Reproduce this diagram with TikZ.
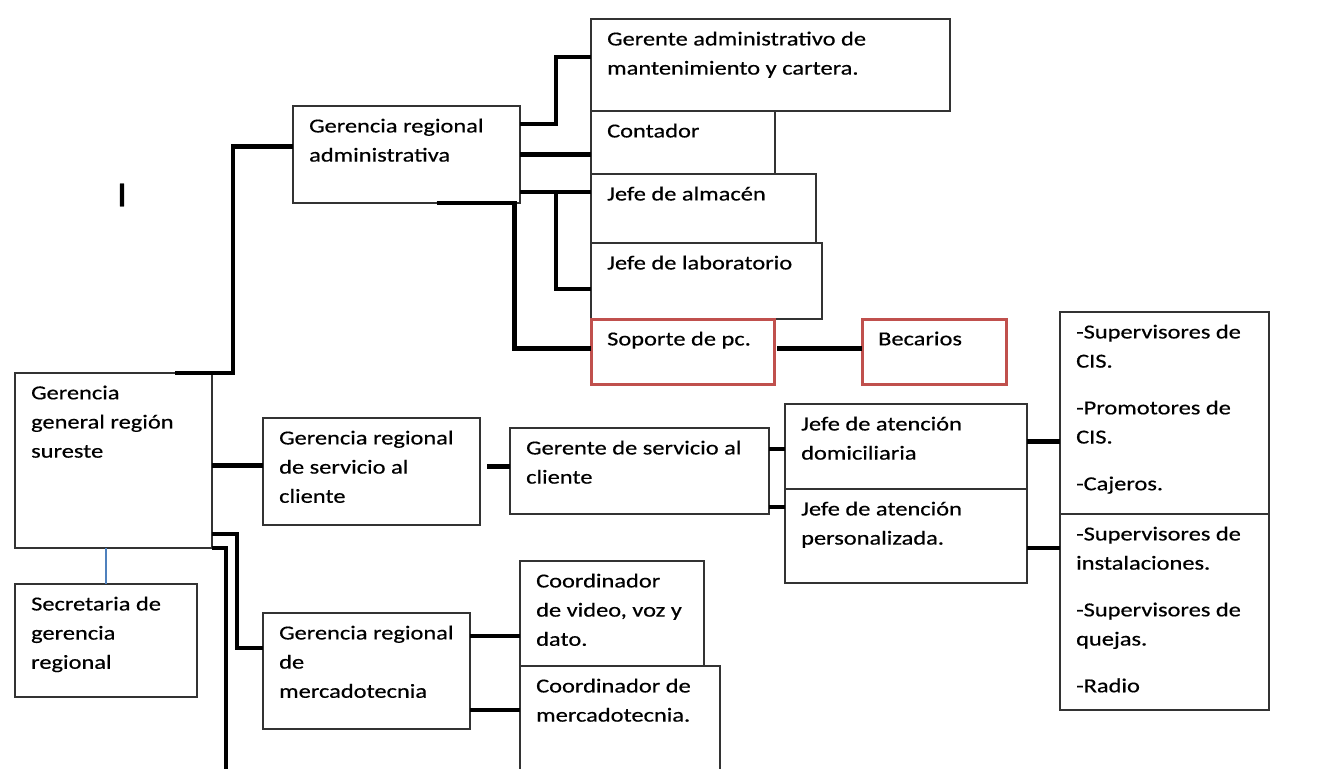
\documentclass[tikz,border=0pt]{standalone}
\usepackage{fontspec}
\setmainfont{Carlito}[FakeStretch=1.23,FakeBold=0.5]
\usetikzlibrary{positioning,calc}
\definecolor{rojo}{RGB}{192,80,77}
\definecolor{azul}{RGB}{79,129,189}

\tikzset{
    caja/.style 2 args={draw=black!80, line width=0.8pt, rectangle, inner sep=0pt, outer sep=0pt,
        anchor=north west, minimum width=#1*0.02cm, minimum height=#2*0.02cm},
    roja/.style={draw=rojo, line width=1.7pt},
    texto/.style={anchor=north west, align=left, inner sep=0pt, xshift=9pt, yshift=-7pt,
        font=\fontsize{11.3}{16.6}\selectfont},
    rotulo/.style={label={[texto]north west:{#1}}},
    linea/.style={line width=2.4pt}
}

\begin{document}
\begin{tikzpicture}[x=0.02cm,y=-0.02cm]
    \useasboundingbox (0,0) rectangle (1334,768);
    \node[font=\fontsize{20}{20}\selectfont] (cursor) at (122,195) {I};

    % rama administrativa
    \node[caja={227}{97}, rotulo={Gerencia regional\\administrativa}] (gra) at (293,106) {};
    \node[caja={359}{92}, rotulo={Gerente administrativo de\\mantenimiento y cartera.}] (gam) at (591,19) {};
    \node[caja={184}{63}, rotulo={Contador}] (con) at (gam.south west) {};
    \node[caja={225}{69}, rotulo={Jefe de almacén}] (alm) at (con.south west) {};
    \node[caja={231}{76}, rotulo={Jefe de laboratorio}] (lab) at (alm.south west) {};
    \node[caja={183}{65}, roja, rotulo={Soporte de pc.}] (sop) at (lab.south west) {};
    \node[caja={144}{65}, roja, rotulo={Becarios}] (bec) at ($(sop.north east)+(88,0)$) {};

    % gerencia general
    \node[caja={197}{175}, rotulo={Gerencia\\general región\\sureste}] (gen) at (15,373) {};
    \node[caja={182}{113}, rotulo={Secretaria de\\gerencia\\regional}] (sec) at ($(gen.south west)+(0,36)$) {};

    % servicio al cliente
    \node[caja={217}{107}, rotulo={Gerencia regional\\de servicio al\\cliente}] (srv) at (263,418) {};
    \node[caja={259}{86}, rotulo={Gerente de servicio al\\cliente}] (gsc) at (510,428) {};
    \node[caja={242}{85}, rotulo={Jefe de atención\\domiciliaria}] (dom) at (785,404) {};
    \node[caja={242}{94}, rotulo={Jefe de atención\\personalizada.}] (per) at (dom.south west) {};
    \node[caja={209}{202}, rotulo={-Supervisores de\\CIS.\\[10pt]-Promotores de\\CIS.\\[10pt]-Cajeros.}] (sp1) at (1060,312) {};
    \node[caja={209}{196}, rotulo={-Supervisores de\\instalaciones.\\[10pt]-Supervisores de\\quejas.\\[10pt]-Radio}] (sp2) at (sp1.south west) {};

    % mercadotecnia
    \node[caja={207}{116}, rotulo={Gerencia regional\\de\\mercadotecnia}] (mer) at (263,613) {};
    \node[caja={184}{105}, rotulo={Coordinador\\de video, voz y\\dato.}] (cv) at (520,561) {};
    \node[caja={200}{110}, rotulo={Coordinador de\\mercadotecnia.}] (cm) at (cv.south west) {};
    \coordinate (sigue) at (226,772);

    % conectores
    \draw[linea] ($(gen.north east)+(-37,0)$) -- ++(58,0) |- ($(gra.west)+(0,-8)$);
    \draw[linea] ($(gra.north east)+(0,18)$) -- ++(36,0) |- ($(gam.west)+(0,-8)$);
    \draw[linea] (gra.east) -- (gra.east -| con.west);
    \draw[linea] ($(gra.south east)+(0,-11)$) coordinate (r1) -- (r1 -| alm.west);
    \draw[linea] ($(r1)+(36,0)$) |- ($(lab.west)+(0,8)$);
    \draw[linea] ($(gra.south)+(30,0)$) -- ++(78,0) |- ($(sop.west)+(0,-3)$);
    \draw[linea] ($(sop.east)+(3,-3)$) coordinate (r2) -- (r2 -| bec.west);
    \draw[linea] ($(gen.east)+(0,5)$) coordinate (r3) -- (r3 -| srv.west);
    \draw[linea] ($(srv.east)+(7,-5)$) coordinate (r4) -- (r4 -| gsc.west);
    \draw[linea] ($(gsc.east)+(0,-22)$) coordinate (r5) -- (r5 -| dom.west);
    \draw[linea] ($(gsc.east)+(0,36)$) coordinate (r6) -- (r6 -| per.west);
    \draw[linea] ($(dom.east)+(0,-5)$) coordinate (r7) -- (r7 -| sp1.west);
    \draw[linea] ($(per.east)+(0,12)$) coordinate (r8) -- (r8 -| sp2.west);
    \draw[linea] ($(gen.south east)+(0,-14)$) -- ++(25,0) |- ($(mer.west)+(0,-23)$);
    \draw[linea] (gen.south east) -| (sigue);
    \draw[linea] ($(mer.north east)+(0,23)$) coordinate (r9) -- (r9 -| cv.west);
    \draw[linea] ($(mer.south east)+(0,-19)$) coordinate (r10) -- (r10 -| cm.west);
    \draw[azul, line width=0.6pt] (sec.north) -- (sec.north |- gen.south);
\end{tikzpicture}
\end{document}
